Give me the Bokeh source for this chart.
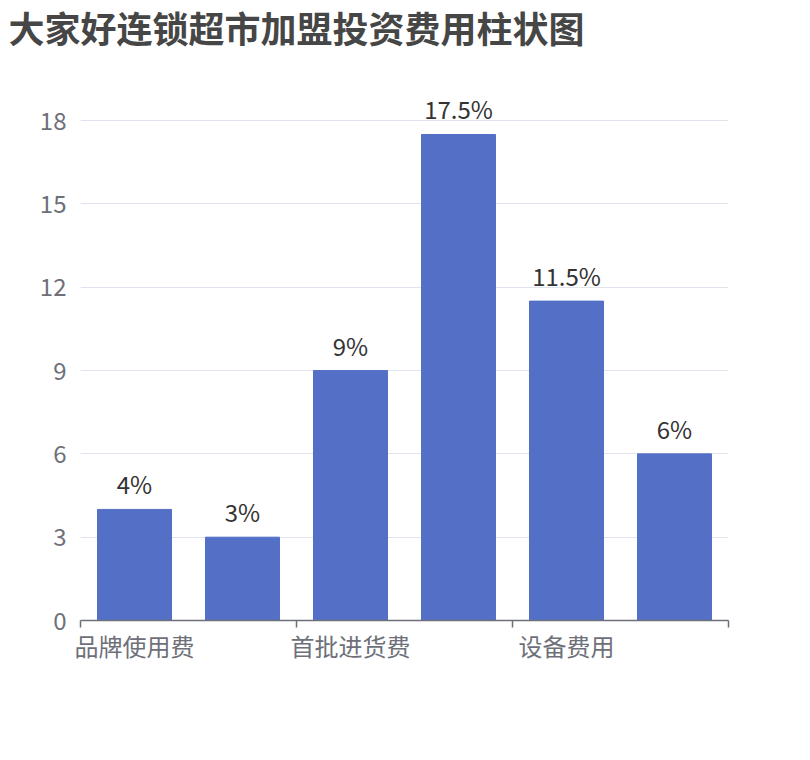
from bokeh.plotting import figure
from bokeh.models import ColumnDataSource, FixedTicker, LabelSet
from bokeh.core.properties import value
from bokeh.embed import file_html
from bokeh.resources import INLINE

title = "大家好连锁超市加盟投资费用柱状图"
categories = ["品牌使用费", "加盟费", "首批进货费", "店面装修费", "设备费用", "流动资金"]
values = [4, 3, 9, 17.5, 11.5, 6]
labels = ["4%", "3%", "9%", "17.5%", "11.5%", "6%"]
y_ticks = [0, 3, 6, 9, 12, 15, 18]

FONT = "Noto Sans CJK SC"
GRAY = "#6e7079"

n = len(categories)
src = ColumnDataSource(dict(
    x=[i + 0.5 for i in range(n)],
    value=values,
    label=labels,
))

# frame reaches up close to the title; grid and ticks stop at 18
p = figure(width=800, height=740, x_range=(0, n), y_range=(0, 20.38),
           output_backend="svg", toolbar_location=None,
           min_border_left=80, min_border_right=72,
           min_border_bottom=120, min_border_top=50)

p.title.text = title
p.title.text_font = FONT
p.title.text_font_size = "36px"
p.title.text_font_style = "bold"
p.title.text_color = "#464646"
p.title.align = "left"
p.title.vertical_align = "top"
p.title.offset = -72
p.title.standoff = 0

p.vbar(x="x", top="value", bottom=0, width=0.685, color="#5470c6", source=src)

p.add_layout(LabelSet(x="x", y="value", text="label", source=src,
                      y_offset=8, text_align="center", text_baseline="bottom",
                      text_font=value(FONT), text_font_size=value("24px"),
                      text_color="#333333"))

p.outline_line_color = None
p.xgrid.visible = False
p.ygrid.grid_line_color = "#dfe4ef"

# y axis
p.yaxis.ticker = FixedTicker(ticks=y_ticks)
p.yaxis.axis_line_color = None
p.yaxis.major_tick_line_color = None
p.yaxis.minor_tick_line_color = None
p.yaxis.major_label_standoff = 8
p.yaxis.major_label_text_font = FONT
p.yaxis.major_label_text_font_size = "24px"
p.yaxis.major_label_text_color = GRAY

# x axis: labels every other category, ticks on group boundaries
label_pos = [i + 0.5 for i in range(0, n, 2)]
p.xaxis.ticker = FixedTicker(ticks=label_pos, minor_ticks=list(range(0, n + 1, 2)))
p.xaxis.major_label_overrides = {pos: categories[i] for pos, i in zip(label_pos, range(0, n, 2))}
p.xaxis.axis_line_color = GRAY
p.xaxis.axis_line_width = 1.5
p.xaxis.major_tick_out = 0
p.xaxis.major_tick_in = 0
p.xaxis.minor_tick_out = 7
p.xaxis.minor_tick_in = 0
p.xaxis.minor_tick_line_color = GRAY
p.xaxis.minor_tick_line_width = 1.5
p.xaxis.major_label_standoff = 0
p.xaxis.major_label_text_font = FONT
p.xaxis.major_label_text_font_size = "24px"
p.xaxis.major_label_text_color = GRAY

open("out.html", "w").write(file_html(p, INLINE))
